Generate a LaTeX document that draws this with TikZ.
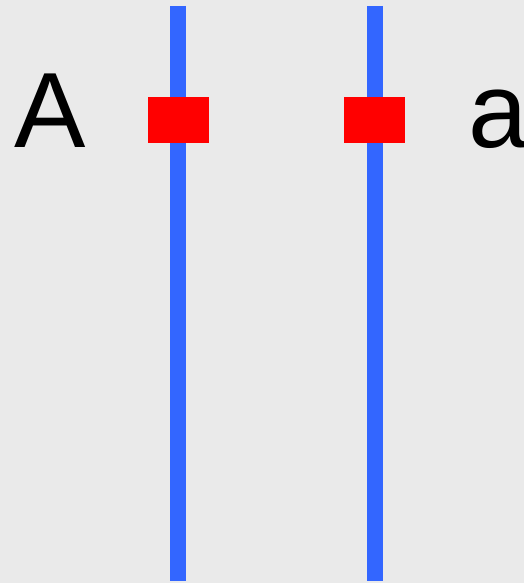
\documentclass[tikz,border=0pt]{standalone}
\usepackage{fontspec}
\setmainfont{Liberation Sans}
\definecolor{bggrey}{HTML}{EAEAEA}
\definecolor{strandblue}{HTML}{3366FF}
\definecolor{locusred}{HTML}{FF0000}
\begin{document}
\begin{tikzpicture}[x=1pt, y=-1pt,
  strand/.style={draw=strandblue, line width=16pt},
  locus/.style={fill=locusred, draw=none, minimum width=61pt, minimum height=46pt, inner sep=0pt, rectangle},
  allele/.style={inner sep=0pt, font=\fontsize{107}{107}\selectfont, anchor=base west}]
  % background and page size
  \fill[bggrey] (0,0) rectangle (524,583);
  \useasboundingbox (0,0) rectangle (524,583);
  % chromosome strands
  \coordinate (l1top) at (178,6);
  \coordinate (l1bot) at (178,581);
  \coordinate (l2top) at (375,6);
  \coordinate (l2bot) at (375,581);
  \draw[strand] (l1top) -- (l1bot);
  \draw[strand] (l2top) -- (l2bot);
  % gene loci
  \node[locus] (m1) at (178.5,120) {};
  \node[locus] (m2) at (374.5,120) {};
  % allele labels
  \node[allele] (la) at (14,147) {A};
  \node[allele] (lb) at (468,147) {a};
\end{tikzpicture}
\end{document}
